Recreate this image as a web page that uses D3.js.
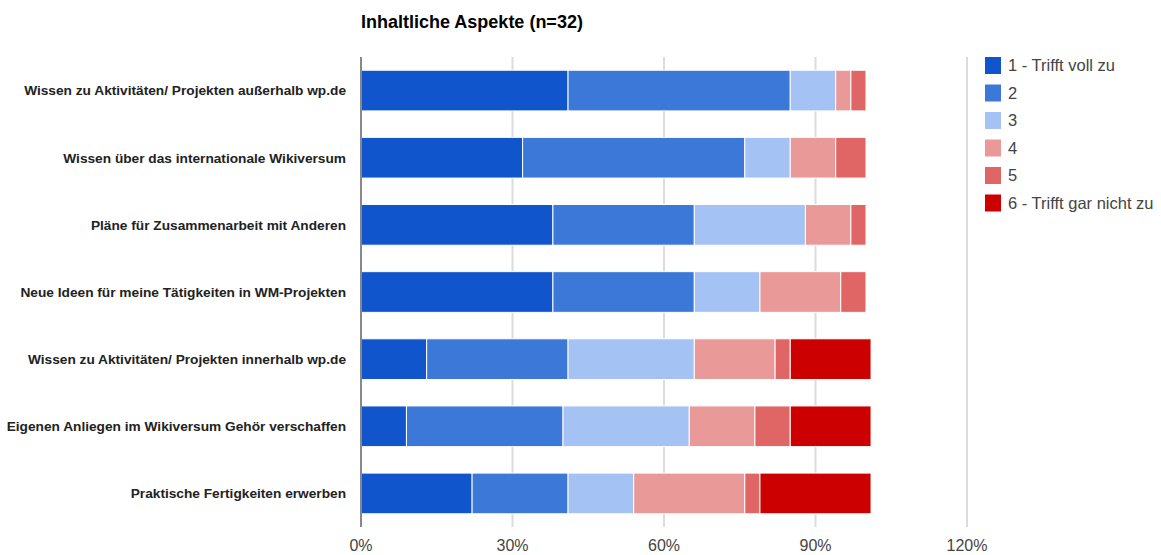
<!DOCTYPE html>
<html>
<head>
<meta charset="utf-8">
<script src="https://cdn.jsdelivr.net/npm/d3@7"></script>
<style>
  body { margin: 0; background: #fff; }
  text { font-family: Arial, "Liberation Sans", sans-serif; }
</style>
</head>
<body>
<svg id="chart" width="1161" height="555"></svg>
<script>
// Kategorien (von oben nach unten)
var categories = [
  "Wissen zu Aktivitäten/ Projekten außerhalb wp.de",
  "Wissen über das internationale Wikiversum",
  "Pläne für Zusammenarbeit mit Anderen",
  "Neue Ideen für meine Tätigkeiten in WM-Projekten",
  "Wissen zu Aktivitäten/ Projekten innerhalb wp.de",
  "Eigenen Anliegen im Wikiversum Gehör verschaffen",
  "Praktische Fertigkeiten erwerben"
];
var seriesNames = ["1 - Trifft voll zu", "2", "3", "4", "5", "6 - Trifft gar nicht zu"];
var seriesColors = ["#1155cc", "#3c78d8", "#a4c2f4", "#ea9999", "#e06666", "#cc0000"];

// Prozentwerte pro Antwortstufe
var s1 = [41, 32, 38, 38, 13, 9, 22];
var s2 = [44, 44, 28, 28, 28, 31, 19];
var s3 = [9, 9, 22, 13, 25, 25, 13];
var s4 = [3, 9, 9, 16, 16, 13, 22];
var s5 = [3, 6, 3, 5, 3, 7, 3];
var s6 = [0, 0, 0, 0, 16, 16, 22];

var xTicks = [0, 30, 60, 90, 120];

var svg = d3.select("#chart");
// Plotbereich ("top" ist im Browser reserviert, daher andere Namen)
var areaLeft = 361, areaRight = 967, areaTop = 57, areaBottom = 527;

var x = d3.scaleLinear().domain([0, 120]).range([areaLeft, areaRight]);
var y = d3.scaleBand().domain(categories).range([areaTop, areaBottom])
  .paddingInner(0.394).paddingOuter(0.197);

// Tabelle für den Stack bauen
var allSeries = [s1, s2, s3, s4, s5, s6];
var rows = categories.map(function (c, i) {
  var r = { cat: c };
  seriesNames.forEach(function (n, k) { r[n] = allSeries[k][i]; });
  return r;
});
var stacked = d3.stack().keys(seriesNames)(rows);

// Titel
svg.append("text")
  .attr("x", areaLeft).attr("y", 28)
  .style("font-size", "18px").style("font-weight", "bold").style("fill", "#000")
  .text("Inhaltliche Aspekte (n=32)");

// Gitterlinien
svg.append("g").selectAll("line").data(xTicks.slice(1)).enter().append("line")
  .attr("x1", function (d) { return x(d); }).attr("x2", function (d) { return x(d); })
  .attr("y1", areaTop).attr("y2", areaBottom)
  .style("stroke", "#dcdcdc").style("stroke-width", 2);

// Balken
svg.append("g").selectAll("g").data(stacked).enter().append("g")
  .style("fill", function (d, i) { return seriesColors[i]; })
  .selectAll("rect").data(function (d) { return d; }).enter().append("rect")
  .filter(function (d) { return d[1] > d[0]; })
  .attr("x", function (d) { return x(d[0]); })
  .attr("y", function (d) { return y(d.data.cat); })
  .attr("width", function (d) { return x(d[1]) - x(d[0]); })
  .attr("height", y.bandwidth())
  .style("stroke", "#fff").style("stroke-width", 1);

// Null-Achse
svg.append("line")
  .attr("x1", x(0)).attr("x2", x(0)).attr("y1", areaTop).attr("y2", areaBottom)
  .style("stroke", "#888").style("stroke-width", 2);

// Achsenbeschriftung unten
svg.append("g").selectAll("text").data(xTicks).enter().append("text")
  .attr("x", function (d) { return x(d); }).attr("y", 551)
  .attr("text-anchor", "middle")
  .style("font-size", "16px").style("fill", "#444")
  .text(function (d) { return d + "%"; });

// Kategorien links
svg.append("g").selectAll("text").data(categories).enter().append("text")
  .attr("x", 346)
  .attr("y", function (d) { return y(d) + y.bandwidth() / 2; })
  .attr("dy", "0.35em")
  .attr("text-anchor", "end")
  .style("font-size", "13.7px").style("font-weight", "bold").style("fill", "#222")
  .text(function (d) { return d; });

// Legende
var legend = svg.append("g").selectAll("g").data(seriesNames).enter().append("g")
  .attr("transform", function (d, i) { return "translate(985," + (57 + i * 27.5) + ")"; });
legend.append("rect")
  .attr("width", 16).attr("height", 17)
  .style("fill", function (d, i) { return seriesColors[i]; });
legend.append("text")
  .attr("x", 23).attr("y", 8.5).attr("dy", "0.35em")
  .style("font-size", "16.5px").style("fill", "#444")
  .text(function (d) { return d; });
</script>
</body>
</html>
